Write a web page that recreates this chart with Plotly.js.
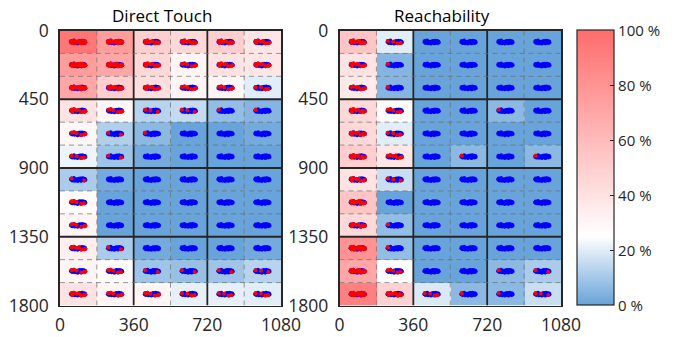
<!DOCTYPE html>
<html>
<head>
<meta charset="utf-8">
<script src="https://cdn.plot.ly/plotly-3.0.1.min.js"></script>
<style>html,body{margin:0;padding:0;background:#fff;}#chart{width:678px;height:337px;}</style>
</head>
<body>
<div id="chart"></div>
<script>
// ---- data ----
const colCenters = [90, 270, 450, 630, 810, 990];
const rowCenters = [75, 225, 375, 525, 675, 825, 975, 1125, 1275, 1425, 1575, 1725];
const xTicks = [0, 360, 720, 1080];
const yTicks = [0, 450, 900, 1350, 1800];
const cbTickVals = [0, 0.2, 0.4, 0.6, 0.8, 1.0];
const cbTickText = ['0 %', '20 %', '40 %', '60 %', '80 %', '100 %'];
const titles = ['Direct Touch', 'Reachability'];

// error rate per cell (rows top->bottom, cols left->right)
const directTouch = [
  [0.95, 0.75, 0.50, 0.45, 0.50, 0.38],
  [0.75, 0.70, 0.45, 0.30, 0.40, 0.38],
  [0.70, 0.50, 0.42, 0.30, 0.30, 0.20],
  [0.40, 0.29, 0.13, 0.15, 0.07, 0.05],
  [0.29, 0.12, 0.06, 0.00, 0.00, 0.02],
  [0.22, 0.09, 0.02, 0.00, 0.00, 0.00],
  [0.11, 0.02, 0.00, 0.00, 0.00, 0.00],
  [0.27, 0.00, 0.00, 0.00, 0.00, 0.00],
  [0.30, 0.00, 0.00, 0.00, 0.00, 0.00],
  [0.33, 0.11, 0.02, 0.00, 0.00, 0.02],
  [0.30, 0.27, 0.09, 0.08, 0.09, 0.13],
  [0.40, 0.30, 0.30, 0.21, 0.21, 0.20]
];
const reachability = [
  [0.55, 0.20, 0.00, 0.00, 0.00, 0.00],
  [0.40, 0.05, 0.00, 0.00, 0.00, 0.00],
  [0.36, 0.05, 0.00, 0.00, 0.00, 0.00],
  [0.45, 0.27, 0.00, 0.00, 0.06, 0.00],
  [0.45, 0.20, 0.00, 0.00, 0.00, 0.00],
  [0.50, 0.37, 0.00, 0.06, 0.00, 0.06],
  [0.40, 0.16, 0.00, 0.00, 0.00, 0.00],
  [0.55, 0.00, 0.00, 0.00, 0.00, 0.00],
  [0.45, 0.07, 0.00, 0.00, 0.00, 0.00],
  [0.80, 0.07, 0.00, 0.00, 0.00, 0.00],
  [0.70, 0.26, 0.00, 0.00, 0.06, 0.11],
  [0.90, 0.48, 0.19, 0.06, 0.06, 0.16]
];
// touch-point scatter shape around each target (offsets from target centre)
const clusterDx = [-34, 28, -8, 14, -22, 34, 2, -30, 22, -14, 8, -36, 32, -2, 18, -18, 26, -26, 10, -4];
const clusterDy = [-6, 6, -2, 9, -9, 3, -5, 6, 0, 2, -7, 1, -3, 4, -8, 8, -6, -3, 7, 10];

// ---- styling ----
const colorscale = [
  [0, 'rgb(104,163,217)'],
  [0.25, 'rgb(255,255,255)'],
  [1, 'rgb(255,108,108)']
];
const FONT = 'Open Sans, Noto Sans, sans-serif';
const cellW = 180, cellH = 150, blockW = 360, blockH = 450, W = 1080, H = 1800;

const datasets = [directTouch, reachability];
const traces = [];
datasets.forEach((z, i) => {
  const xa = i === 0 ? 'x' : 'x2';
  const ya = i === 0 ? 'y' : 'y2';
  traces.push({
    type: 'heatmap', x: colCenters, y: rowCenters, z: z,
    zmin: 0, zmax: 1, colorscale: colorscale, xaxis: xa, yaxis: ya,
    showscale: i === 1, hoverinfo: 'skip',
    colorbar: {
      x: 577 / 678, xanchor: 'left', xpad: 0, ypad: 0,
      y: 0.5015, yanchor: 'middle', len: 275 / 337, lenmode: 'fraction',
      thickness: 37, thicknessmode: 'pixels',
      outlinecolor: '#262626', outlinewidth: 1.2,
      tickvals: cbTickVals, ticktext: cbTickText,
      ticks: 'inside', ticklen: 4, tickcolor: '#262626',
      tickfont: {family: FONT, size: 15, color: '#262626'}
    }
  });
  const bx = [], by = [], rx = [], ry = [];
  z.forEach((row, r) => row.forEach((v, c) => {
    const nRed = Math.round(v * clusterDx.length);
    clusterDx.forEach((dx, k) => {
      bx.push(colCenters[c] + dx); by.push(rowCenters[r] + clusterDy[k]);
      if (k < nRed) { rx.push(colCenters[c] + dx); ry.push(rowCenters[r] + clusterDy[k]); }
    });
  }));
  traces.push({type: 'scatter', mode: 'markers', x: bx, y: by, xaxis: xa, yaxis: ya,
    marker: {color: 'rgb(0,0,255)', size: 4}, hoverinfo: 'skip', showlegend: false});
  traces.push({type: 'scatter', mode: 'markers', x: rx, y: ry, xaxis: xa, yaxis: ya,
    marker: {color: 'rgb(255,0,0)', size: 4}, hoverinfo: 'skip', showlegend: false});
});

const shapes = [];
['', '2'].forEach(s => {
  const xr = 'x' + s, yr = 'y' + s;
  for (let x = cellW; x < W; x += cellW) {
    const solid = x % blockW === 0;
    shapes.push({type: 'line', xref: xr, yref: yr, x0: x, x1: x, y0: 0, y1: H, layer: 'above',
      line: solid ? {color: '#262626', width: 1.8} : {color: 'rgba(110,110,110,0.7)', width: 1, dash: '5px,4px'}});
  }
  for (let y = cellH; y < H; y += cellH) {
    const solid = y % blockH === 0;
    shapes.push({type: 'line', xref: xr, yref: yr, x0: 0, x1: W, y0: y, y1: y, layer: 'above',
      line: solid ? {color: '#262626', width: 1.8} : {color: 'rgba(110,110,110,0.7)', width: 1, dash: '5px,4px'}});
  }
});

function xAxis(domain, anchor) {
  return {domain: domain, anchor: anchor, range: [0, W], tickvals: xTicks, ticks: '',
    showgrid: false, zeroline: false, showline: true, mirror: true, linecolor: '#262626', linewidth: 1.8,
    tickfont: {family: FONT, size: 17.5, color: '#262626'}, ticklabelstandoff: 3, fixedrange: true};
}
function yAxis(domain, anchor) {
  return {domain: domain, anchor: anchor, range: [H, 0], tickvals: yTicks, ticks: '',
    showgrid: false, zeroline: false, showline: true, mirror: true, linecolor: '#262626', linewidth: 1.8,
    tickfont: {family: FONT, size: 17.5, color: '#262626'}, ticklabelstandoff: 6, fixedrange: true};
}
const yDom = [1 - 305.5 / 337, 1 - 30.5 / 337];
const layout = {
  width: 678, height: 337, margin: {l: 0, r: 0, t: 0, b: 0},
  paper_bgcolor: '#fff', plot_bgcolor: '#fff', showlegend: false,
  xaxis: xAxis([60 / 678, 281 / 678], 'y'),
  yaxis: yAxis(yDom, 'x'),
  xaxis2: xAxis([339.5 / 678, 561 / 678], 'y2'),
  yaxis2: yAxis(yDom, 'x2'),
  shapes: shapes,
  annotations: titles.map((t, i) => ({
    text: t, xref: 'paper', yref: 'paper',
    x: i === 0 ? 162 / 678 : 442 / 678,
    y: 1 - 16 / 337, xanchor: 'center', yanchor: 'middle', showarrow: false,
    font: {family: FONT, size: 17, color: '#000'}
  }))
};
Plotly.newPlot('chart', traces, layout, {staticPlot: true, displayModeBar: false});
</script>
</body>
</html>
